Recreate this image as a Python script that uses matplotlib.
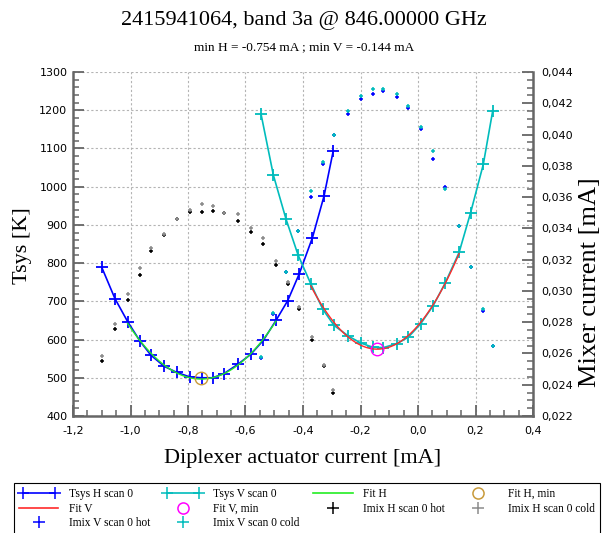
import numpy as np
import matplotlib.pyplot as plt
from matplotlib.lines import Line2D
from matplotlib.legend_handler import HandlerLine2D
from matplotlib.ticker import MultipleLocator, FuncFormatter

SERIF = "Liberation Serif"

# ---------- Tsys H scan 0 (diplexer current in mA, Tsys in K) ----------
h_x = [-1.100, -1.054, -1.010, -0.967, -0.929, -0.883, -0.839, -0.793, -0.752, -0.714,
       -0.675, -0.627, -0.582, -0.538, -0.494, -0.453, -0.413, -0.367, -0.327, -0.295]
h_tsys = [789, 707, 647, 596, 559, 530, 514, 502, 500, 500,
          511, 535, 561, 598, 650, 702, 772, 867, 975, 1093]
# mixer current H, hot / cold load (mA)
h_imix_hot = [0.02554, 0.02755, 0.02944, 0.03102, 0.03253, 0.03356, 0.03460, 0.03503, 0.03507, 0.03513,
              0.03496, 0.03445, 0.03375, 0.03302, 0.03166, 0.03042, 0.02882, 0.02684, 0.02520, 0.02349]
h_imix_cold = [0.02584, 0.02787, 0.02978, 0.03148, 0.03273, 0.03366, 0.03460, 0.03517, 0.03554, 0.03543,
               0.03500, 0.03492, 0.03400, 0.03336, 0.03191, 0.03055, 0.02894, 0.02708, 0.02523, 0.02366]

# ---------- Tsys V scan 0 ----------
v_x = [-0.546, -0.503, -0.459, -0.417, -0.373, -0.331, -0.292, -0.242, -0.199, -0.158,
       -0.121, -0.074, -0.034, 0.009, 0.053, 0.094, 0.143, 0.183, 0.227, 0.260]
v_tsys = [1190, 1030, 915, 821, 746, 679, 637, 609, 591, 580,
          579, 589, 606, 641, 689, 747, 828, 932, 1058, 1199]
v_imix_hot = [0.02574, 0.02852, 0.03120, 0.03385, 0.03599, 0.03810, 0.03994, 0.04131, 0.04229, 0.04259,
              0.04277, 0.04242, 0.04168, 0.04034, 0.03842, 0.03665, 0.03412, 0.03150, 0.02872, 0.02648]
v_imix_cold = [0.02577, 0.02856, 0.03123, 0.03386, 0.03641, 0.03823, 0.03997, 0.04151, 0.04248, 0.04291,
               0.04291, 0.04259, 0.04183, 0.04050, 0.03897, 0.03650, 0.03417, 0.03155, 0.02882, 0.02648]

# points used by the parabolic fits
fit_h_idx = (2, 15)
fit_v_idx = (4, 17)
min_h = (-0.754, 500)
min_v = (-0.144, 574)

BLUE = "#0000ff"
CYAN = "#00bcbc"
GREEN = "#22ee22"
RED = "#ff2a2a"
GOLD = "#c89a3a"
MAGENTA = "#ff00ff"
GREY = "#8c8c8c"
AXCOL = "#666666"

fig = plt.figure(figsize=(6.04, 5.33), dpi=100)
ax = fig.add_axes([73 / 604, 1 - 416 / 533, 460 / 604, 344 / 533])
ax2 = ax.twinx()

# Tsys curves
ax.plot(h_x, h_tsys, color=BLUE, lw=1.2, marker="+", ms=8, mew=1.3, zorder=2)
ax.plot(v_x, v_tsys, color=CYAN, lw=1.2, marker="+", ms=8, mew=1.3, zorder=2)

# fits
a, b = fit_h_idx
ch = np.polyfit(h_x[a:b], h_tsys[a:b], 2)
xh = np.linspace(h_x[a], h_x[b - 1], 120)
ax.plot(xh, np.polyval(ch, xh), color=GREEN, lw=1.0, zorder=3)
a, b = fit_v_idx
cv = np.polyfit(v_x[a:b], v_tsys[a:b], 2)
xv = np.linspace(v_x[a], v_x[b - 1], 120)
ax.plot(xv, np.polyval(cv, xv), color=RED, lw=1.0, zorder=3)

ax.plot(*min_h, ls="none", marker="o", ms=9, mfc="none", mec=GOLD, mew=1.0, zorder=4)
ax.plot(*min_v, ls="none", marker="o", ms=9, mfc="none", mec=MAGENTA, mew=1.0, zorder=4)

# mixer currents
kw = dict(ls="none", marker="+", ms=3.5, mew=1.1)
ax2.plot(h_x, h_imix_hot, color="black", **kw)
ax2.plot(h_x, h_imix_cold, color=GREY, **kw)
ax2.plot(v_x, v_imix_hot, color=BLUE, **kw)
ax2.plot(v_x, v_imix_cold, color=CYAN, **kw)

# axes
ax.set_xlim(-1.2, 0.4)
ax.set_ylim(400, 1300)
ax2.set_ylim(0.022, 0.044)
ax.xaxis.set_major_locator(MultipleLocator(0.2))
ax.xaxis.set_minor_locator(MultipleLocator(0.05))
ax.yaxis.set_major_locator(MultipleLocator(100))
ax.yaxis.set_minor_locator(MultipleLocator(20))
ax2.yaxis.set_major_locator(MultipleLocator(0.002))
ax2.yaxis.set_minor_locator(MultipleLocator(0.0005))
ax.xaxis.set_major_formatter(FuncFormatter(lambda v, p: f"{v:.1f}".replace(".", ",").replace("-0,0", "0,0")))
ax.yaxis.set_major_formatter(FuncFormatter(lambda v, p: f"{v:.0f}"))
ax2.yaxis.set_major_formatter(FuncFormatter(lambda v, p: f"{v:.3f}".replace(".", ",")))

ax.grid(True, which="major", color="#b4b4b4", ls=(0, (2, 2)), lw=0.8)
for s in ["top", "right"]:
    ax.spines[s].set_visible(False)
for s in ["top", "left", "bottom"]:
    ax2.spines[s].set_visible(False)
for sp in [ax.spines["left"], ax.spines["bottom"], ax2.spines["right"]]:
    sp.set_color(AXCOL)
    sp.set_linewidth(1.8)

ax.tick_params(which="both", direction="in", color=AXCOL, labelsize=8)
ax.tick_params(which="major", length=8, width=1.3)
ax.tick_params(which="minor", length=4, width=1.1)
ax.tick_params(axis="x", pad=7)
ax.tick_params(axis="y", pad=4)
ax2.tick_params(which="both", direction="in", color=AXCOL, labelsize=8, pad=6)
ax2.tick_params(which="major", length=8, width=1.3)
ax2.tick_params(which="minor", length=4, width=1.1)

# texts
fig.text(0.503, 1 - 21 / 533, "2415941064, band 3a @ 846.00000 GHz", ha="center", va="center",
         fontsize=16, family=SERIF)
fig.text(0.503, 1 - 47 / 533, "min H = -0.754 mA ; min V = -0.144 mA", ha="center", va="center",
         fontsize=9.5, family=SERIF)
fig.text(303 / 604, 1 - 458 / 533, "Diplexer actuator current [mA]", ha="center", va="center",
         fontsize=16, family=SERIF)
fig.text(22 / 604, 1 - 246 / 533, "Tsys [K]", ha="center", va="center", rotation=90,
         fontsize=16, family=SERIF)
fig.text(590 / 604, 1 - 282 / 533, "Mixer current [mA]", ha="center", va="center", rotation=90,
         fontsize=19, family=SERIF)


# legend: marker-only entries get their symbol at the right end of the handle
class HandlerRight(HandlerLine2D):
    def get_xdata(self, legend, xdescent, ydescent, width, height, fontsize):
        xdata, _ = super().get_xdata(legend, xdescent, ydescent, width, height, fontsize)
        return xdata, [-xdescent + width]


def proxy(color, marker="None", ls="-", **k):
    return Line2D([], [], color=color, marker=marker, ls=ls, lw=1.2, ms=8, mew=1.1, **k)


p_th = proxy(BLUE, "+")
p_tv = proxy(CYAN, "+")
p_fh = proxy(GREEN)
p_fv = proxy(RED)
p_mh = proxy(GOLD, "o", ls="none", mfc="none")
p_mv = proxy(MAGENTA, "o", ls="none", mfc="none")
p_ihh = proxy("black", "+", ls="none")
p_ihc = proxy(GREY, "+", ls="none")
p_ivh = proxy(BLUE, "+", ls="none")
p_ivc = proxy(CYAN, "+", ls="none")

order = [(p_th, "Tsys H scan 0"), (p_fv, "Fit V"), (p_ivh, "Imix V scan 0 hot"),
         (p_tv, "Tsys V scan 0"), (p_mv, "Fit V, min"), (p_ivc, "Imix V scan 0 cold"),
         (p_fh, "Fit H"), (p_ihh, "Imix H scan 0 hot"),
         (p_mh, "Fit H, min"), (p_ihc, "Imix H scan 0 cold")]
hmap = {h: HandlerRight(numpoints=1) for h in [p_mh, p_mv, p_ihh, p_ihc, p_ivh, p_ivc]}
hmap[p_th] = HandlerLine2D(numpoints=2)
hmap[p_tv] = HandlerLine2D(numpoints=2)
leg = fig.legend([o[0] for o in order], [o[1] for o in order], ncol=4, mode="expand",
                 loc="upper left", bbox_to_anchor=(14 / 604, 0, 586 / 604, 1 - 483 / 533),
                 borderaxespad=0, handler_map=hmap, handlelength=3.4, handletextpad=0.9,
                 labelspacing=0.22, borderpad=0.45, fancybox=False, framealpha=1,
                 prop={"family": SERIF, "size": 8.3})
leg.get_frame().set_edgecolor("black")
leg.get_frame().set_linewidth(0.8)

plt.savefig("out.png", dpi=100)
plt.close()
